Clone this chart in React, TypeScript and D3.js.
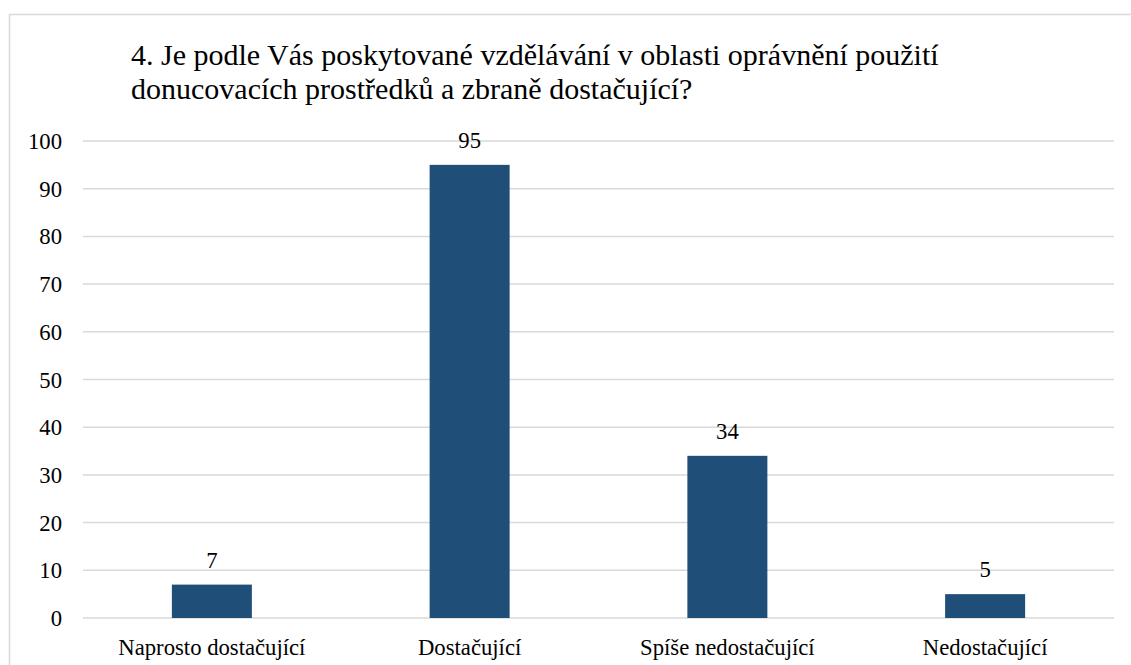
import React from "react";
import * as d3 from "d3";

const categories = ["Naprosto dostačující", "Dostačující", "Spíše nedostačující", "Nedostačující"];
const values = [7, 95, 34, 5];
const yTicks = [0, 10, 20, 30, 40, 50, 60, 70, 80, 90, 100];
const titleLines = [
  "4. Je podle Vás poskytované vzdělávání v oblasti oprávnění použití",
  "donucovacích prostředků a zbraně dostačující?",
];

const font = '"Liberation Serif", "Times New Roman", Tinos, serif';

export default function App() {
  const W = 1131, H = 665;
  const left = 83, right = 1114, top = 141, bottom = 618;
  const x = d3.scaleBand<string>().domain(categories).range([left, right]);
  const y = d3.scaleLinear().domain([0, 100]).range([bottom, top]);
  const barW = 80;
  const fs = 22.7;
  const ts = { fontFamily: font };
  return (
    <svg width={W} height={H} fontFamily={font} style={{ position: "absolute", left: 0, top: 0, background: "#fff", fontFamily: font }}>
      <rect x={9.5} y={14.5} width={1135} height={670} fill="#fff" stroke="#d9d9d9" strokeWidth={1.5} />
      {titleLines.map((t, i) => (
        <text key={i} x={131} y={65 + i * 34} fontSize={30} fill="#000" style={ts}>{t}</text>
      ))}
      {yTicks.map((t) => (
        <g key={t}>
          <line x1={left} x2={right} y1={y(t)} y2={y(t)} stroke="#d9d9d9" strokeWidth={1.5} />
          <text x={62} y={y(t) + 8} textAnchor="end" fontSize={fs} fill="#000" style={ts}>{t}</text>
        </g>
      ))}
      {categories.map((c, i) => {
        const cx = (x(c) as number) + x.bandwidth() / 2;
        return (
          <g key={c}>
            <rect x={cx - barW / 2} y={y(values[i])} width={barW} height={bottom - y(values[i])} fill="#1f4e79" />
            <text x={cx} y={y(values[i]) - 17} textAnchor="middle" fontSize={fs} fill="#000" style={ts}>{values[i]}</text>
            <text x={cx} y={655} textAnchor="middle" fontSize={fs} fill="#000" style={ts}>{c}</text>
          </g>
        );
      })}
    </svg>
  );
}
